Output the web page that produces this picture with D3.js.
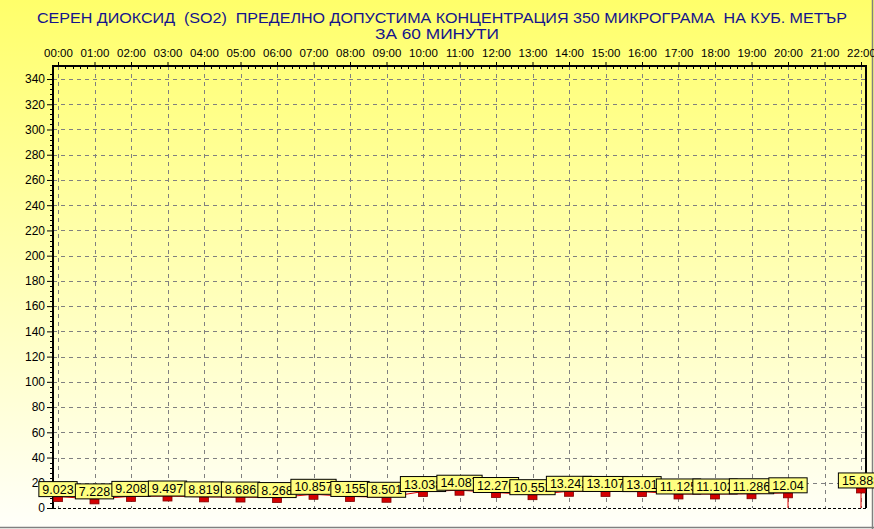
<!DOCTYPE html>
<html><head><meta charset="utf-8">
<script src="https://cdn.jsdelivr.net/npm/d3@7"></script>
<style>
html,body{margin:0;padding:0;background:#fff;}
svg{display:block;}
text{font-family:"Liberation Sans",Arial,sans-serif;}
</style></head>
<body>
<svg id="chart" width="874" height="529"></svg>
<script>
const titleLines = ["СЕРЕН ДИОКСИД  (SO2)  ПРЕДЕЛНО ДОПУСТИМА КОНЦЕНТРАЦИЯ 350 МИКРОГРАМА  НА КУБ. МЕТЪР", "ЗА 60 МИНУТИ"];
const hours = ["00:00","01:00","02:00","03:00","04:00","05:00","06:00","07:00","08:00","09:00","10:00","11:00","12:00","13:00","14:00","15:00","16:00","17:00","18:00","19:00","20:00","21:00","22:00"];
const values = [9.023,7.228,9.208,9.497,8.819,8.686,8.268,10.857,9.155,8.501,13.038,14.087,12.276,10.552,13.242,13.107,13.01,11.125,11.102,11.286,12.04,null,15.888];
const yTicks = [0,20,40,60,80,100,120,140,160,180,200,220,240,260,280,300,320,340];
const labelTexts = ["9.023","7.228","9.208","9.497","8.819","8.686","8.268","10.857","9.155","8.501","13.038","14.087","12.276","10.552","13.242","13.107","13.01","11.125","11.102","11.286","12.04",null,"15.888"];

const W = 874, H = 529;
const svg = d3.select("#chart");
const defs = svg.append("defs");
const grad = defs.append("linearGradient").attr("id","bg").attr("x1",0).attr("y1",0).attr("x2",0).attr("y2",1);
grad.append("stop").attr("offset","0%").attr("stop-color","#ffff6a");
grad.append("stop").attr("offset","100%").attr("stop-color","#fffffa");
svg.append("rect").attr("x",0).attr("y",0).attr("width",W).attr("height",H).attr("fill","url(#bg)");
svg.append("line").attr("x1",0).attr("x2",W).attr("y1",527.5).attr("y2",527.5).attr("stroke","#808080").attr("stroke-width",1.5);
svg.append("line").attr("x1",872.5).attr("x2",872.5).attr("y1",0).attr("y2",529).attr("stroke","#808080").attr("stroke-width",1.5);

const plotL = 53, plotR = 866, plotT = 66, plotB = 508;
const x = d3.scaleLinear().domain([0, hours.length-1]).range([58, 861]);
const y = d3.scaleLinear().domain([0, 350]).range([508, 66.4]);

// title
svg.append("text").attr("x",442).attr("y",23).attr("text-anchor","middle")
  .attr("font-size",15.5).attr("fill","#14148c").style("white-space","pre")
  .attr("textLength",810).attr("lengthAdjust","spacingAndGlyphs").text(titleLines[0]);
svg.append("text").attr("x",437).attr("y",39).attr("text-anchor","middle")
  .attr("font-size",15.5).attr("fill","#14148c").style("white-space","pre")
  .attr("textLength",124).attr("lengthAdjust","spacingAndGlyphs").text(titleLines[1]);

// grid
const grid = svg.append("g");
grid.selectAll("line.v").data(d3.range(hours.length)).join("line")
  .attr("x1",d=>Math.round(x(d))+0.5).attr("x2",d=>Math.round(x(d))+0.5).attr("y1",plotT).attr("y2",plotB)
  .attr("stroke","#808080").attr("stroke-dasharray","4,4").attr("stroke-width",1);
grid.selectAll("line.h").data(yTicks.filter(d=>d>0)).join("line")
  .attr("x1",plotL).attr("x2",plotR).attr("y1",d=>Math.round(y(d))+0.5).attr("y2",d=>Math.round(y(d))+0.5)
  .attr("stroke","#808080").attr("stroke-dasharray","4,4").attr("stroke-width",1);

// top axis
const topAxis = svg.append("g").attr("transform",`translate(0,${plotT})`)
  .call(d3.axisTop(x).tickValues(d3.range(hours.length)).tickFormat(i=>hours[i]).tickSize(4).tickPadding(5));
topAxis.select(".domain").remove();
topAxis.selectAll("line").attr("stroke","#000");
topAxis.selectAll("text").attr("font-size",11.5).attr("fill","#000").attr("font-family","Liberation Sans, Arial, sans-serif");
const minorX = [];
for (let i=0;i<hours.length-1;i++) for (let k=1;k<5;k++) minorX.push(i+k/5);
svg.append("g").selectAll("line").data(minorX).join("line")
  .attr("x1",d=>Math.round(x(d))+0.5).attr("x2",d=>Math.round(x(d))+0.5).attr("y1",plotT).attr("y2",plotT+3).attr("stroke","#000");

// left axis
const leftAxis = svg.append("g").attr("transform",`translate(${plotL},0)`)
  .call(d3.axisLeft(y).tickValues(yTicks).tickFormat(d3.format("d")).tickSize(6).tickPadding(2));
leftAxis.select(".domain").remove();
leftAxis.selectAll("line").attr("stroke","#000");
leftAxis.selectAll("text").attr("font-size",12).attr("fill","#000").attr("font-family","Liberation Sans, Arial, sans-serif");
const minorY = d3.range(0,348,4).filter(d=>d%20!==0);
svg.append("g").selectAll("line").data(minorY).join("line")
  .attr("x1",plotL-3).attr("x2",plotL).attr("y1",d=>Math.round(y(d))+0.5).attr("y2",d=>Math.round(y(d))+0.5).attr("stroke","#000");

// frame
svg.append("line").attr("x1",plotL).attr("x2",plotR).attr("y1",plotT).attr("y2",plotT).attr("stroke","#000").attr("stroke-width",2);
svg.append("line").attr("x1",plotL).attr("x2",plotL).attr("y1",plotT-1).attr("y2",plotB).attr("stroke","#000").attr("stroke-width",2);
svg.append("line").attr("x1",plotR).attr("x2",plotR).attr("y1",plotT-1).attr("y2",plotB).attr("stroke","#000").attr("stroke-width",2);
svg.append("line").attr("x1",plotL).attr("x2",plotR).attr("y1",plotB+0.5).attr("y2",plotB+0.5).attr("stroke","#000").attr("stroke-dasharray","3,2");

// series line: segments between consecutive points; drop to zero next to a gap
const segs = [];
for (let i=0;i<values.length-1;i++){
  const a = values[i], b = values[i+1];
  if (a!=null && b!=null) segs.push([x(i),y(a),x(i+1),y(b)]);
  else if (a!=null && b==null) segs.push([x(i),y(a),x(i),y(0)]);
  else if (a==null && b!=null) segs.push([x(i+1),y(0),x(i+1),y(b)]);
}
svg.append("g").selectAll("line").data(segs).join("line")
  .attr("x1",d=>d[0]).attr("y1",d=>d[1]).attr("x2",d=>d[2]).attr("y2",d=>d[3])
  .attr("stroke","#e00000").attr("stroke-width",1);

const pts = values.map((v,i)=>({v,i,t:labelTexts[i]})).filter(d=>d.v!=null);
svg.append("g").selectAll("rect").data(pts).join("rect")
  .attr("x",d=>x(d.i)-4.5).attr("y",d=>y(d.v)).attr("width",9).attr("height",5)
  .attr("fill","#d40000").attr("stroke","#800000").attr("stroke-width",0.8);

// labels
const lab = svg.append("g");
pts.forEach(d=>{
  const g = lab.append("g");
  const r = g.append("rect");
  const t = g.append("text").attr("font-size",12.5).attr("fill","#000").attr("text-anchor","middle")
    .attr("x",x(d.i)).attr("y",y(d.v)-3).text(d.t);
  const w = t.node().getComputedTextLength()+7;
  r.attr("x",x(d.i)-w/2).attr("y",y(d.v)-15).attr("width",w).attr("height",15)
   .attr("fill","#ffff80").attr("stroke","#000").attr("stroke-width",1);
});
</script>
</body></html>
